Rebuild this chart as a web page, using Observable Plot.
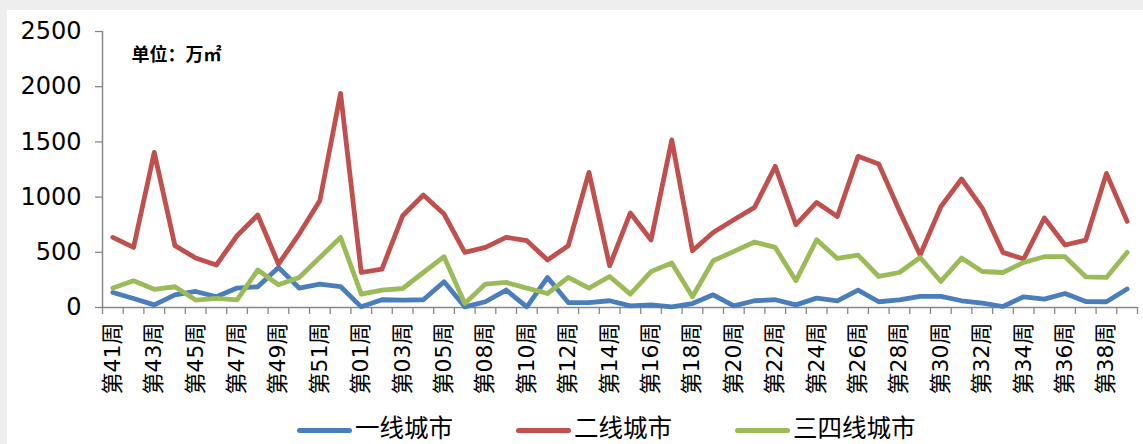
<!DOCTYPE html>
<html>
<head>
<meta charset="utf-8">
<script src="https://cdn.jsdelivr.net/npm/d3@7"></script>
<script src="https://cdn.jsdelivr.net/npm/@observablehq/plot@0.6"></script>
<style>
  html, body { margin: 0; padding: 0; background: #eeeeee; width: 1143px; height: 444px; overflow: hidden; }
  #wrap { position: absolute; left: 7px; top: 10px; width: 1136px; height: 434px; background: #ffffff; }
  #chart { position: absolute; left: 0; top: 0; }
  #legend { position: absolute; left: 290px; top: 407px; height: 20px; display: flex; align-items: center;
    font-family: "Noto Sans CJK SC", sans-serif; font-size: 24.5px; color: #000; line-height: 20px; }
  .item { display: flex; align-items: center; margin-right: 63px; }
  .sw { width: 55px; height: 5px; border-radius: 3px; margin-right: 3px; position: relative; top: 3px; }
</style>
</head>
<body>
<div id="wrap">
  <div id="chart"></div>
  <div id="legend"></div>
</div>
<script>
const weeks = ["第41周","第42周","第43周","第44周","第45周","第46周","第47周","第48周","第49周","第50周","第51周","第52周",
  "第01周","第02周","第03周","第04周","第05周","第06周",
  "第08周","第09周","第10周","第11周","第12周","第13周","第14周","第15周","第16周","第17周","第18周","第19周",
  "第20周","第21周","第22周","第23周","第24周","第25周","第26周","第27周","第28周","第29周","第30周","第31周",
  "第32周","第33周","第34周","第35周","第36周","第37周","第38周","第39周"];

const seriesNames = ["一线城市", "二线城市", "三四线城市"];
const seriesColors = ["#4a7ebb", "#c0504d", "#9bbb59"];

const tier1 = [136, 82, 24, 115, 145, 97, 176, 188, 363, 176, 212, 190,
  6, 70, 67, 70, 233, 6,
  52, 158, 6, 272, 45, 45, 61, 15, 24, 6, 36, 115,
  15, 61, 70, 24, 85, 61, 158, 52, 70, 100, 100, 61,
  40, 9, 97, 76, 127, 54, 52, 167];

const tier2 = [635, 544, 1405, 560, 448, 385, 650, 838, 393, 665, 968, 1940,
  317, 348, 831, 1019, 847, 499,
  544, 635, 605, 430, 560, 1224, 378, 856, 611, 1518, 514, 680,
  795, 907, 1279, 750, 952, 825, 1369, 1300, 877, 475, 913, 1164,
  901, 499, 439, 811, 566, 611, 1215, 780];

const tier34 = [176, 242, 165, 188, 67, 82, 70, 339, 206, 272, 453, 635,
  121, 158, 172, 317, 460, 36,
  212, 227, 176, 127, 272, 176, 281, 121, 326, 403, 97, 423,
  508, 593, 544, 242, 614, 444, 475, 281, 317, 453, 236, 448,
  326, 317, 408, 460, 460, 278, 272, 499];

const yTicks = [0, 500, 1000, 1500, 2000, 2500];
const unitLabel = "单位：万㎡";

const seriesValues = [tier1, tier2, tier34];
const rows = [];
seriesValues.forEach((vals, s) => {
  vals.forEach((v, i) => rows.push({i, week: weeks[i], series: seriesNames[s], value: v}));
});

const xDomain = [-0.5, weeks.length - 0.5];
const boundaries = d3.range(weeks.length + 1).map(k => k - 0.5);
const labelIdx = d3.range(0, weeks.length, 2);

const chart = Plot.plot({
  width: 1136,
  height: 395,
  marginTop: 21,
  marginBottom: 98,
  marginLeft: 95,
  marginRight: 6,
  style: {fontFamily: "'DejaVu Sans', 'Noto Sans CJK SC', sans-serif", color: "#000", background: "transparent"},
  x: {type: "linear", domain: xDomain, label: null},
  y: {domain: [0, 2500], label: null},
  color: {domain: seriesNames, range: seriesColors},
  marks: [
    Plot.axisY({ticks: yTicks, label: null, tickSize: 7, tickPadding: 14, fontSize: 24, stroke: "#878787", strokeWidth: 1.3, fill: "#000", tickFormat: d => String(d)}),
    Plot.ruleX([xDomain[0]], {stroke: "#878787", strokeWidth: 1.5}),
    Plot.axisX({ticks: boundaries, label: null, tickSize: 7, tickFormat: () => "", stroke: "#878787", strokeWidth: 1.3}),
    Plot.axisX({ticks: labelIdx, label: null, tickSize: 0, tickPadding: 15, tickRotate: -90, tickFormat: i => weeks[i], fontSize: 22, fill: "#000"}),
    Plot.ruleY([0], {stroke: "#878787", strokeWidth: 1.5}),
    Plot.line(rows, {x: "i", y: "value", z: "series", stroke: "series", strokeWidth: 4.8, strokeLinejoin: "round", strokeLinecap: "round"}),
    Plot.text([unitLabel], {frameAnchor: "top-left", dx: 29, dy: 24, lineAnchor: "middle", textAnchor: "start", fontSize: 18, fontWeight: "bold", fontFamily: "'Noto Sans CJK SC', sans-serif", fill: "#000"})
  ]
});
document.getElementById("chart").appendChild(chart);

const legend = document.getElementById("legend");
seriesNames.forEach((name, k) => {
  const item = document.createElement("div");
  item.className = "item";
  const sw = document.createElement("span");
  sw.className = "sw";
  sw.style.background = seriesColors[k];
  const t = document.createElement("span");
  t.textContent = name;
  item.appendChild(sw);
  item.appendChild(t);
  legend.appendChild(item);
});
</script>
</body>
</html>
